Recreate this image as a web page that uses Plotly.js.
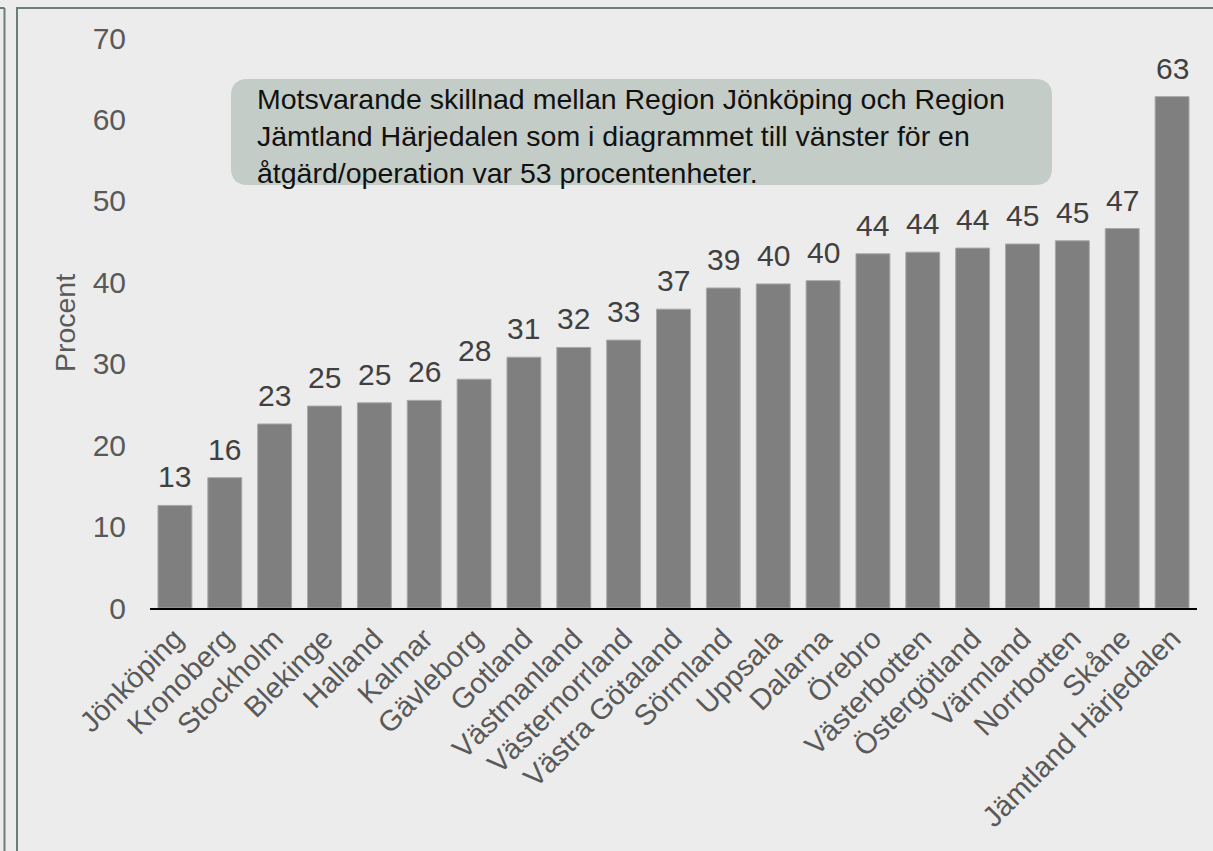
<!DOCTYPE html>
<html>
<head>
<meta charset="utf-8">
<script src="https://cdn.plot.ly/plotly-3.0.1.min.js"></script>
<style>html,body{margin:0;padding:0;background:#ececec;}#chart{width:1213px;height:851px;}</style>
</head>
<body>
<div id="chart"></div>
<script>
// Data
const regions = ["Jönköping","Kronoberg","Stockholm","Blekinge","Halland","Kalmar","Gävleborg","Gotland","Västmanland","Västernorrland","Västra Götaland","Sörmland","Uppsala","Dalarna","Örebro","Västerbotten","Östergötland","Värmland","Norrbotten","Skåne","Jämtland Härjedalen"];
const values = [12.6,16.0,22.6,24.8,25.2,25.5,28.1,30.8,32.0,32.9,36.7,39.3,39.8,40.2,43.5,43.7,44.2,44.7,45.1,46.6,62.8];
const yTicks = [0,10,20,30,40,50,60,70];
const noteLines = [
  "Motsvarande skillnad mellan Region Jönköping och Region",
  "Jämtland Härjedalen som i diagrammet till vänster för en",
  "åtgärd/operation var 53 procentenheter."
];

const W = 1213, H = 851;
const M = {l:150, r:16, t:38, b:243};
const PW = W - M.l - M.r, PH = H - M.t - M.b;
const px = x => (x - M.l) / PW;
const py = y => (H - M.b - y) / PH;
const FONT = 'Liberation Sans, Arial, sans-serif';

function roundRect(x0,y0,x1,y1,r){
  const P = (x,y) => px(x) + ',' + py(y);
  return 'M' + P(x0+r,y0) + ' L' + P(x1-r,y0) + ' Q' + P(x1,y0) + ' ' + P(x1,y0+r) +
    ' L' + P(x1,y1-r) + ' Q' + P(x1,y1) + ' ' + P(x1-r,y1) +
    ' L' + P(x0+r,y1) + ' Q' + P(x0,y1) + ' ' + P(x0,y1-r) +
    ' L' + P(x0,y0+r) + ' Q' + P(x0,y0) + ' ' + P(x0+r,y0) + ' Z';
}

const borderColor = '#6b7d76';
const shapes = [
  {type:'path', xref:'paper', yref:'paper', path: roundRect(231,79,1052,185,17), fillcolor:'#c3ccc6', line:{width:0}, layer:'below'},
  {type:'line', xref:'paper', yref:'paper', x0:px(16), x1:px(1213), y0:py(8), y1:py(8), line:{color:borderColor, width:2}},
  {type:'line', xref:'paper', yref:'paper', x0:px(17), x1:px(17), y0:py(8), y1:py(851), line:{color:borderColor, width:2}},
  {type:'line', xref:'paper', yref:'paper', x0:px(0), x1:px(4.5), y0:py(8), y1:py(8), line:{color:borderColor, width:2}},
  {type:'line', xref:'paper', yref:'paper', x0:px(4.5), x1:px(4.5), y0:py(8), y1:py(851), line:{color:borderColor, width:2}}
];

const annotations = [{
  xref:'paper', yref:'paper', x:px(255), y:py(135.5), xanchor:'left', yanchor:'middle', align:'left',
  text:noteLines.join('<br>'), showarrow:false, font:{family:FONT, size:28.5, color:'#111111'}
}].concat(regions.map((r,i) => ({
  x:r, y:values[i], xref:'x', yref:'y', xanchor:'center', yanchor:'bottom', yshift:10,
  text:String(Math.round(values[i])), showarrow:false,
  font:{family:FONT, size:30, color:'#404040'}
})));

const trace = {
  type:'bar', x:regions, y:values,
  marker:{color:'#7f7f7f', line:{color:'#a8a8a8', width:1}},
  hoverinfo:'none'
};

const layout = {
  width:W, height:H,
  margin:M,
  paper_bgcolor:'#ececec', plot_bgcolor:'#ececec',
  bargap:0.32,
  showlegend:false,
  font:{family:FONT, color:'#595959'},
  xaxis:{
    type:'category', tickangle:-45, showgrid:false, zeroline:false,
    showline:true, linecolor:'#000000', linewidth:2,
    ticks:'', tickfont:{size:29, color:'#595959'}
  },
  yaxis:{
    range:[0,70], tickvals:yTicks, showgrid:false, zeroline:false, showline:false,
    ticks:'', tickfont:{size:30, color:'#595959'}, ticklabelstandoff:23,
    title:{text:'Procent', font:{size:28.5, color:'#595959'}, standoff:8}
  },
  shapes:shapes,
  annotations:annotations
};

Plotly.newPlot('chart',[trace],layout,{displayModeBar:false, staticPlot:true});
</script>
</body>
</html>
